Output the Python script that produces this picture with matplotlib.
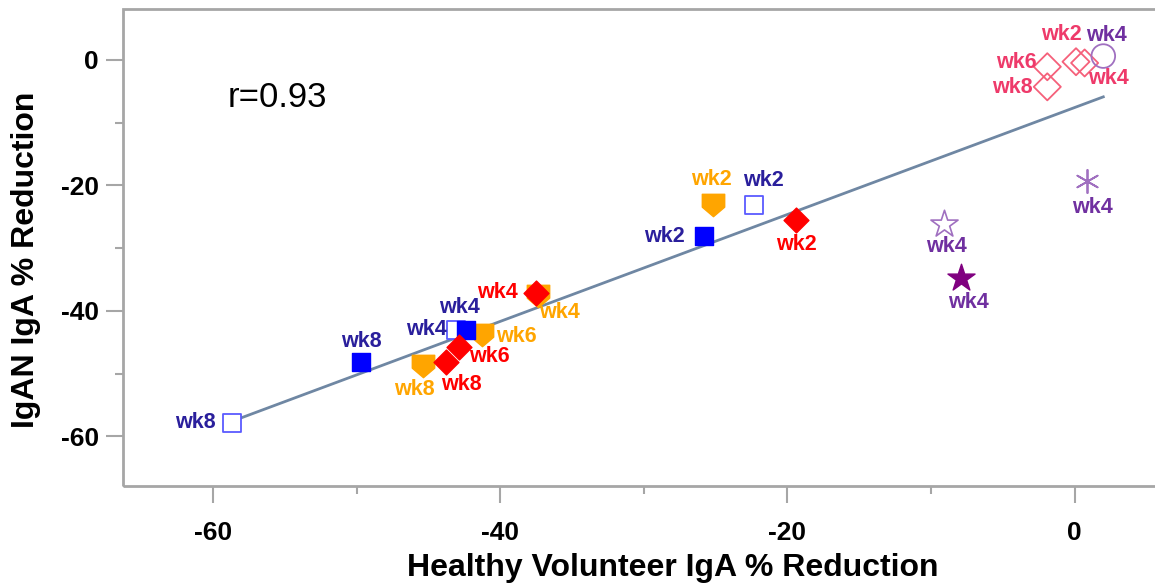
import matplotlib
matplotlib.use("Agg")
import matplotlib.pyplot as plt
from matplotlib.path import Path
from matplotlib.patches import Rectangle
from matplotlib.ticker import MultipleLocator

plt.rcParams['font.family'] = ['Liberation Sans', 'DejaVu Sans']
plt.rcParams['axes.unicode_minus'] = False

# ---------------- data ----------------
blue_fill_x = [-25.8, -42.4, -49.7]
blue_fill_y = [-28.0, -43.0, -48.2]
blue_fill_lab = ['wk2', 'wk4', 'wk8']

blue_open_x = [-22.3, -43.1, -58.7]
blue_open_y = [-23.2, -43.0, -57.8]
blue_open_lab = ['wk2', 'wk4', 'wk8']

orange_x = [-25.2, -37.4, -41.3, -45.4]
orange_y = [-23.2, -37.6, -43.8, -48.8]
orange_lab = ['wk2', 'wk4', 'wk6', 'wk8']

red_x = [-19.4, -37.5, -42.9, -43.8]
red_y = [-25.5, -37.1, -45.7, -48.2]
red_lab = ['wk2', 'wk4', 'wk6', 'wk8']

pink_x = [0.1, 0.7, -1.9, -1.9]
pink_y = [-0.3, -0.5, -1.1, -4.3]
pink_lab = ['wk2', 'wk4', 'wk6', 'wk8']

circle_x = [2.0]
circle_y = [0.6]
circle_lab = ['wk4']

open_star_x = [-9.1]
open_star_y = [-26.1]
open_star_lab = ['wk4']

fill_star_x = [-7.9]
fill_star_y = [-34.7]
fill_star_lab = ['wk4']

aster_x = [0.9]
aster_y = [-19.3]
aster_lab = ['wk4']

fit_x = [-58.7, 2.0]
fit_y = [-57.6, -5.9]
r_text = 'r=0.93'

x_label = 'Healthy Volunteer IgA % Reduction'
y_label = 'IgAN IgA % Reduction'

# ---------------- style / layout ----------------
# label offsets in pixels (dx right, dy up)
blue_fill_off = [(-40, -1), (-6, 22), (0, 21)]
blue_open_off = [(9, 25), (-29, 0), (-36, 0)]
orange_off = [(-1, 26), (22, -17), (35, -2), (-8, -23)]
red_off = [(0, -25), (-39, 0), (31, -10), (16, -22)]
pink_off = [(-15, 27), (24, -16), (-31, 4), (-35, -1)]
circle_off = [(3, 21)]
open_star_off = [(3, -23)]
fill_star_off = [(7, -25)]
aster_off = [(5, -27)]

NAVY = '#2a1f9c'
BLUE = '#0000ff'
BLUE_OPEN = '#5a5aff'
ORANGE = '#ffa500'
RED = '#ff0000'
PINK = '#f5607a'
PINK_LAB = '#ee3a6a'
PURPLE_LAB = '#7030a0'
PURPLE = '#a070c0'
DARK_PURPLE = '#800080'
FRAME = '#a6a6a6'

home_plate = Path([(-1, 1), (1, 1), (1, -0.15), (0, -1), (-1, -0.15), (-1, 1)],
                  [Path.MOVETO, Path.LINETO, Path.LINETO, Path.LINETO, Path.LINETO, Path.CLOSEPOLY])

W, H = 1155, 586
fig = plt.figure(figsize=(W / 100, H / 100), dpi=100)
L, R, B, T = 122.7, 1160, 486, 9
ax = fig.add_axes([L / W, 1 - B / H, (R - L) / W, (B - T) / H])
ax.set_xlim(-66.3, 5.95)
ax.set_ylim(-67.9, 8.1)

for s in ax.spines.values():
    s.set_visible(False)
ax.add_patch(Rectangle((0, 0), 1, 1, transform=ax.transAxes, fill=False,
                       edgecolor=FRAME, linewidth=2, zorder=5, clip_on=False))

ax.xaxis.set_major_locator(MultipleLocator(20))
ax.xaxis.set_minor_locator(MultipleLocator(10))
ax.yaxis.set_major_locator(MultipleLocator(20))
ax.yaxis.set_minor_locator(MultipleLocator(10))
ax.tick_params(which='major', length=12, width=1.5, color=FRAME, labelsize=19, pad=13)
ax.tick_params(which='minor', length=6, width=1.5, color=FRAME)
ax.tick_params(axis='y', which='major', pad=5)
for lab in ax.get_xticklabels() + ax.get_yticklabels():
    lab.set_fontweight('bold')
ax.set_xlabel(x_label, fontsize=23, fontweight='bold', va='center')
ax.set_ylabel(y_label, fontsize=23, fontweight='bold', va='center')
ax.xaxis.set_label_coords((673 - L) / (R - L), (B - 568) / (B - T))
ax.yaxis.set_label_coords((26 - L) / (R - L), (B - 260) / (B - T))

ax.plot(fit_x, fit_y, color='#6f87a3', linewidth=2, zorder=2)

PX = 0.72  # points per pixel


def labels(xs, ys, labs, offs, color):
    for x, y, t, (dx, dy) in zip(xs, ys, labs, offs):
        ax.annotate(t, (x, y), xytext=(dx * PX, dy * PX), textcoords='offset points',
                    ha='center', va='center', fontsize=15.5, fontweight='bold',
                    color=color, zorder=6)


ax.scatter(blue_open_x, blue_open_y, marker='s', s=170, facecolors='white',
           edgecolors=BLUE_OPEN, linewidths=1.3, zorder=3)
ax.scatter(blue_fill_x, blue_fill_y, marker='s', s=170, color=BLUE, zorder=4)
ax.scatter(orange_x, orange_y, marker=home_plate, s=260, color=ORANGE, zorder=3)
ax.scatter(red_x, red_y, marker='D', s=160, color=RED, zorder=4)
ax.scatter(pink_x, pink_y, marker='D', s=190, facecolors='none',
           edgecolors=PINK, linewidths=1.3, zorder=3)
ax.scatter(circle_x, circle_y, marker='o', s=290, facecolors='none',
           edgecolors=PURPLE, linewidths=1.3, zorder=3)
ax.scatter(open_star_x, open_star_y, marker='*', s=420, facecolors='white',
           edgecolors=PURPLE, linewidths=1.2, zorder=3)
ax.scatter(fill_star_x, fill_star_y, marker='*', s=420, color=DARK_PURPLE, zorder=3)
ax.scatter(aster_x, aster_y, marker=(6, 2, 0), s=280, color=PURPLE, linewidths=1.3, zorder=3)

labels(blue_fill_x, blue_fill_y, blue_fill_lab, blue_fill_off, NAVY)
labels(blue_open_x, blue_open_y, blue_open_lab, blue_open_off, NAVY)
labels(orange_x, orange_y, orange_lab, orange_off, ORANGE)
labels(red_x, red_y, red_lab, red_off, RED)
labels(pink_x, pink_y, pink_lab, pink_off, PINK_LAB)
labels(circle_x, circle_y, circle_lab, circle_off, PURPLE_LAB)
labels(open_star_x, open_star_y, open_star_lab, open_star_off, PURPLE_LAB)
labels(fill_star_x, fill_star_y, fill_star_lab, fill_star_off, PURPLE_LAB)
labels(aster_x, aster_y, aster_lab, aster_off, PURPLE_LAB)

ax.text(-55.5, -6.0, r_text, fontsize=25, ha='center', va='center', color='black')

fig.savefig('out.png', dpi=100)
